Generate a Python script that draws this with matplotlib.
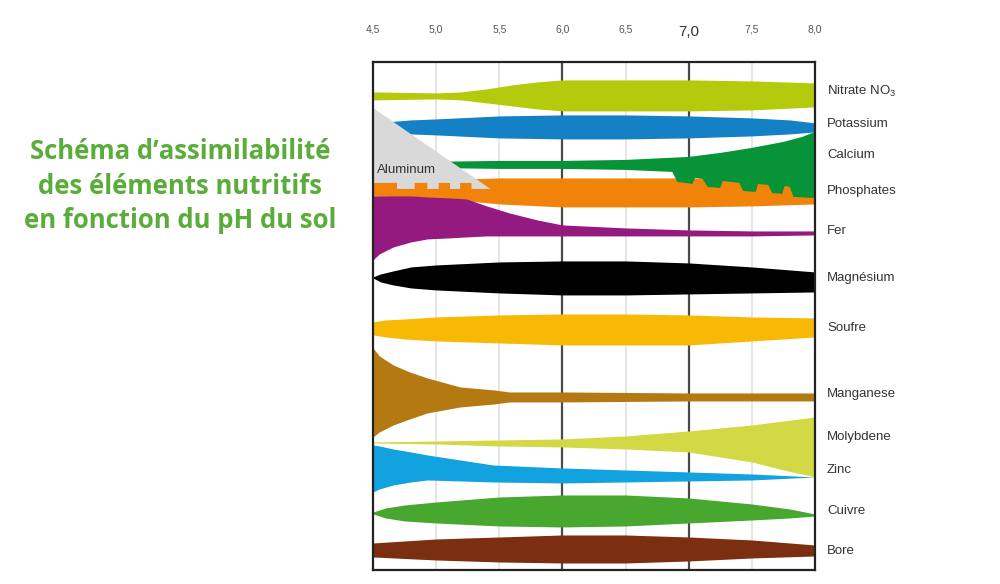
import matplotlib
matplotlib.use("Agg")
import matplotlib.pyplot as plt
from matplotlib import transforms

# ---------------- data (pH on x, vertical position in chart units on y) -------------
ph_ticks = [4.5, 5.0, 5.5, 6.0, 6.5, 7.0, 7.5, 8.0]
tick_labels = ["4,5", "5,0", "5,5", "6,0", "6,5", "7,0", "7,5", "8,0"]

nitrate_ph = [4.5, 5.0, 5.2, 5.4, 5.6, 5.8, 6.0, 6.5, 7.0, 7.5, 8.0]
nitrate_top = [92, 93, 92, 89, 85, 82, 80, 80, 80, 81, 83]
nitrate_bot = [100, 99, 100, 103, 106, 109, 111, 111, 111, 110, 107]

potassium_ph = [4.6, 4.8, 5.0, 5.5, 6.0, 6.5, 7.0, 7.5, 7.8, 8.0]
potassium_top = [122, 120, 119, 116, 115, 115, 116, 118, 120, 123]
potassium_bot = [133, 134, 135, 138, 139, 139, 138, 136, 134, 132]

calcium_top_ph = [4.93, 5.5, 6.0, 6.5, 7.0, 7.25, 7.5, 7.75, 7.9, 8.0]
calcium_top = [162, 161, 161, 160, 157, 153, 148, 142, 137, 132]
calcium_bot_ph = [4.93, 5.5, 6.0, 6.5, 6.87, 6.91, 7.03, 7.05, 7.11, 7.15, 7.25, 7.27,
                  7.40, 7.43, 7.53, 7.55, 7.63, 7.66, 7.74, 7.76, 7.80, 7.83, 7.98, 8.0]
calcium_bot = [168, 169, 169, 170, 172, 182, 184, 178, 179, 187, 188, 181,
               183, 191, 192, 184, 185, 193, 194, 186, 187, 197, 198, 197]

phos_ph = [4.5, 4.75, 5.0, 5.25, 5.5, 6.0, 6.5, 7.0, 7.5, 8.0]
phos_top = [181, 181, 180, 179, 178, 178, 178, 178, 179, 180]
phos_bot = [196, 197, 198, 201, 204, 207, 207, 207, 206, 204]

fer_ph = [4.5, 4.55, 4.66, 4.8, 4.93, 5.1, 5.24, 5.4, 5.58, 5.8, 6.0, 6.5, 7.0, 7.5, 8.0]
fer_top = [196, 196, 196, 196, 197, 198, 199, 206, 213, 220, 225, 228, 230, 231, 231]
fer_bot = [260, 254, 247, 242, 239, 238, 237, 236, 236, 236, 236, 236, 236, 236, 235]

mg_ph = [4.5, 4.56, 4.66, 4.8, 5.0, 5.5, 6.0, 6.5, 7.0, 7.5, 8.0]
mg_top = [277, 274, 271, 267, 265, 262, 261, 261, 263, 267, 272]
mg_bot = [278, 282, 285, 288, 290, 293, 295, 295, 294, 293, 292]

s_ph = [4.5, 4.6, 4.75, 5.0, 5.5, 6.0, 6.5, 7.0, 7.5, 8.0]
s_top = [322, 320, 319, 317, 315, 314, 314, 315, 317, 318]
s_bot = [335, 337, 339, 341, 343, 345, 345, 345, 341, 337]

mn_ph = [4.5, 4.55, 4.66, 4.79, 4.93, 5.19, 5.46, 5.58, 6.0, 7.0, 8.0]
mn_top = [348, 356, 365, 372, 378, 387, 390, 392, 392, 393, 393]
mn_bot = [437, 432, 425, 419, 413, 407, 404, 402, 402, 401, 401]

mo_ph = [4.5, 5.0, 5.5, 6.0, 6.5, 7.0, 7.5, 7.75, 8.0]
mo_top = [442, 441, 440, 439, 436, 431, 425, 421, 417]
mo_bot = [443, 444, 446, 447, 449, 452, 462, 470, 477]

zn_ph = [4.5, 4.55, 4.66, 4.8, 4.93, 5.19, 5.45, 6.0, 6.5, 7.0, 7.5, 8.0]
zn_top = [445, 446, 449, 452, 455, 460, 465, 468, 470, 472, 474, 477]
zn_bot = [492, 489, 485, 482, 480, 481, 482, 483, 482, 481, 480, 477]

cu_ph = [4.5, 4.6, 4.75, 5.0, 5.5, 6.0, 6.5, 7.0, 7.5, 7.8, 8.0]
cu_top = [512, 508, 505, 502, 497, 495, 495, 498, 504, 509, 514]
cu_bot = [514, 518, 521, 523, 526, 527, 526, 523, 520, 518, 516]

b_ph = [4.5, 5.0, 5.5, 6.0, 6.5, 7.0, 7.5, 8.0]
b_top = [543, 539, 537, 535, 535, 537, 540, 545]
b_bot = [557, 560, 562, 563, 563, 561, 558, 556]

al_ph = [4.5, 5.43, 5.28, 5.28, 5.19, 5.19, 5.11, 5.11, 5.02, 5.02, 4.93, 4.93,
         4.83, 4.83, 4.69, 4.69, 4.5]
al_y = [108, 189, 189, 183, 183, 189, 189, 183, 183, 189, 189, 183,
        183, 189, 189, 183, 183]

labels = ["Nitrate NO$_3$", "Potassium", "Calcium", "Phosphates", "Fer", "Magnésium",
          "Soufre", "Manganese", "Molybdene", "Zinc", "Cuivre", "Bore"]
label_y = [92, 124, 155, 191, 231, 278, 328, 394, 437, 470, 511, 551]

title = "Schéma d\u2019assimilabilité\ndes éléments nutritifs\nen fonction du pH du sol"

# ---------------- figure ----------------
LAB_FONT = ["Liberation Sans", "DejaVu Sans"]
plt.rcParams['mathtext.fontset'] = 'custom'
plt.rcParams['mathtext.rm'] = 'Liberation Sans'
plt.rcParams['mathtext.it'] = 'Liberation Sans'

fig = plt.figure(figsize=(10, 5.84), dpi=100)
ax = fig.add_axes([0.373, 0.024, 0.442, 0.870])
ax.set_xlim(4.5, 8.0)
ax.set_ylim(570, 62)

for x in ph_ticks[1:-1]:
    if x in (6.0, 7.0):
        ax.axvline(x, color="#4a4a4a", lw=1.6, zorder=1)
    else:
        ax.axvline(x, color="#e2e2e2", lw=1.2, zorder=1)

def band(xs, top, bot, color):
    ax.fill_between(xs, top, bot, color=color, lw=0, zorder=2)

band(nitrate_ph, nitrate_top, nitrate_bot, "#b4ca0c")
band(potassium_ph, potassium_top, potassium_bot, "#1480c6")
band(phos_ph, phos_top, phos_bot, "#f1820a")
ax.fill(calcium_top_ph + calcium_bot_ph[::-1], calcium_top + calcium_bot[::-1],
        color="#079438", lw=0, zorder=3)
band(fer_ph, fer_top, fer_bot, "#951a80")
band(mg_ph, mg_top, mg_bot, "#000000")
band(s_ph, s_top, s_bot, "#f8b904")
band(mn_ph, mn_top, mn_bot, "#b47a11")
band(mo_ph, mo_top, mo_bot, "#d2d944")
band(zn_ph, zn_top, zn_bot, "#12a2e0")
band(cu_ph, cu_top, cu_bot, "#47a72f")
band(b_ph, b_top, b_bot, "#7b2e10")
ax.fill(al_ph, al_y, color="#d9d9d9", lw=0, zorder=4)
ax.text(4.53, 170, "Aluminum", fontsize=9.5, color="#333333",
        family=LAB_FONT, va="center", ha="left", zorder=5)

for sp in ax.spines.values():
    sp.set_color("#222222")
    sp.set_linewidth(1.6)
    sp.set_zorder(6)

ax.set_yticks([])
ax.set_xticks([])

# pH labels above the frame
ttrans = transforms.blended_transform_factory(ax.transData, ax.transAxes)
for x, lab in zip(ph_ticks, tick_labels):
    if lab == "7,0":
        ax.text(x, 1.059, lab, transform=ttrans, ha="center", va="center", fontsize=11,
                color="#333333", family=LAB_FONT, clip_on=False)
    else:
        ax.text(x, 1.063, lab, transform=ttrans, ha="center", va="center", fontsize=7.5,
                color="#555555", family=LAB_FONT, clip_on=False)

trans = transforms.blended_transform_factory(ax.transAxes, ax.transData)
for lab, y in zip(labels, label_y):
    ax.text(1.027, y, lab, transform=trans, ha="left", va="center", fontsize=9.5,
            color="#333333", family=LAB_FONT, clip_on=False)

fig.text(0.1805, 0.681, title, ha="center", va="center", fontsize=18.5, fontweight="bold",
         color="#5aac3b", family=["Open Sans", "DejaVu Sans"], linespacing=1.36)

fig.savefig("out.png", dpi=100)
